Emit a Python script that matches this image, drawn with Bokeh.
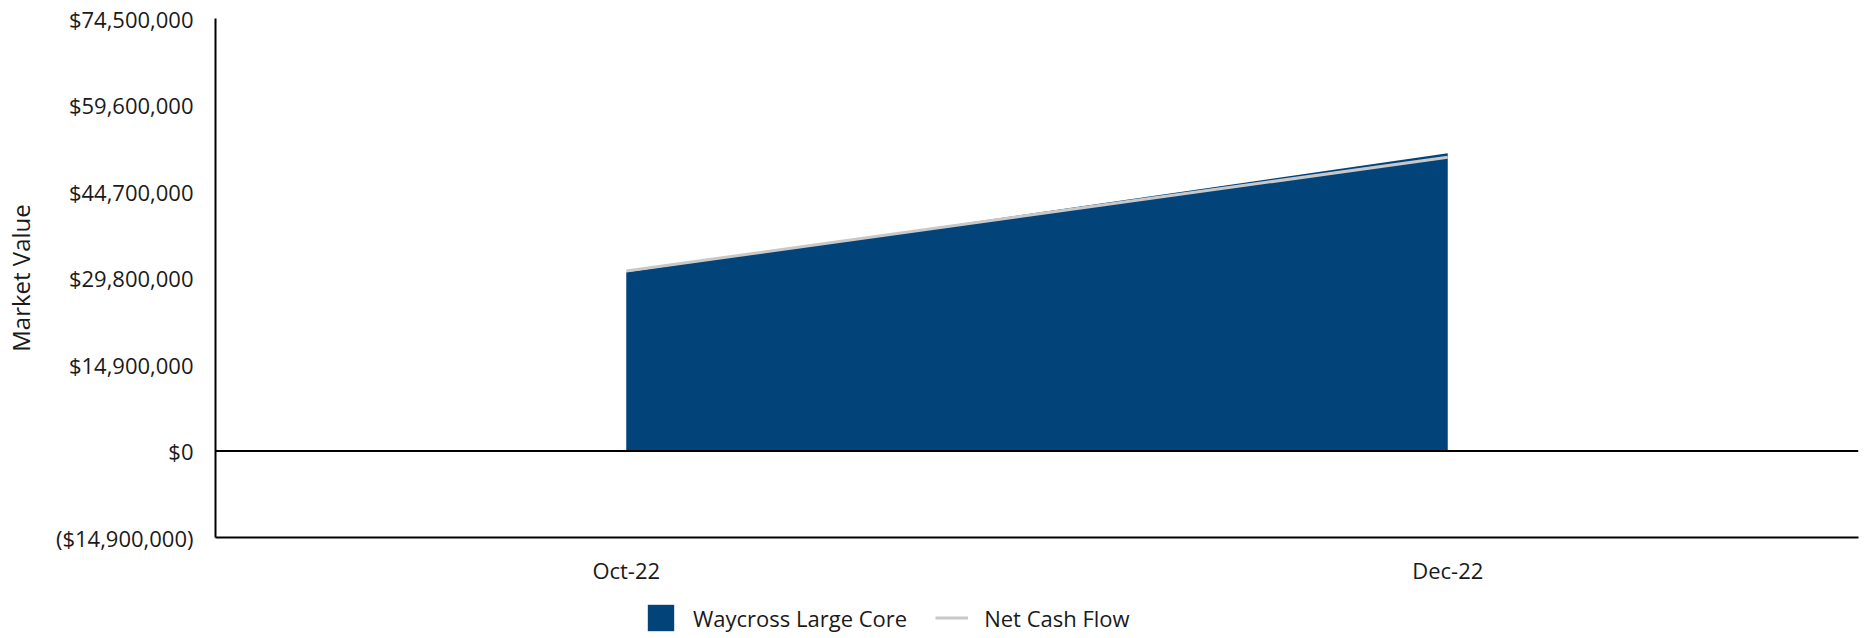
from bokeh.plotting import figure
from bokeh.layouts import column
from bokeh.models import Range1d, FixedTicker, Span, Legend, LegendItem, ColumnDataSource
from bokeh.embed import file_html
from bokeh.resources import INLINE

# ---- data ----
categories = ["Oct-22", "Dec-22"]
market_value = [30_800_000, 51_300_000]
net_cash_flow = [31_000_000, 50_600_000]
y_ticks = [-14_900_000, 0, 14_900_000, 29_800_000, 44_700_000, 59_600_000, 74_500_000]
y_tick_labels = ["($14,900,000)", "$0", "$14,900,000", "$29,800,000",
                 "$44,700,000", "$59,600,000", "$74,500,000"]
series_names = ["Waycross Large Core", "Net Cash Flow"]

FONT = "Open Sans"
BLUE = "#02437A"
GRAY = "#C8C8C8"
TXT = "#1a1a1a"

x = list(range(len(categories)))
src = ColumnDataSource(dict(x=x, mv=market_value, ncf=net_cash_flow, zero=[0] * len(x)))

p = figure(frame_width=1643, frame_height=519, output_backend="svg", toolbar_location=None,
           x_range=Range1d(-0.5, len(categories) - 0.5),
           y_range=Range1d(y_ticks[0], y_ticks[-1]),
           min_border_left=214, min_border_top=18, min_border_right=1, min_border_bottom=0)

p.outline_line_color = None
p.grid.visible = False
p.background_fill_color = "white"
p.border_fill_color = "white"

area = p.varea(x="x", y1="zero", y2="mv", source=src, fill_color=BLUE)
line = p.line(x="x", y="ncf", source=src, line_color=GRAY, line_width=3)

p.add_layout(Span(location=0, dimension="width", line_color="black", line_width=2))

# axes
p.yaxis.ticker = FixedTicker(ticks=y_ticks)
p.yaxis.major_label_overrides = {t: l for t, l in zip(y_ticks, y_tick_labels)}
p.xaxis.ticker = FixedTicker(ticks=x)
p.xaxis.major_label_overrides = {i: c for i, c in zip(x, categories)}
for ax in (p.xaxis, p.yaxis):
    ax.axis_line_color = "black"
    ax.axis_line_width = 2
    ax.major_tick_line_color = None
    ax.minor_tick_line_color = None
    ax.major_label_text_font = FONT
    ax.major_label_text_font_size = "22px"
    ax.major_label_text_color = TXT
p.yaxis.major_label_standoff = 16
p.xaxis.major_label_standoff = 11
p.yaxis.axis_label = "Market Value"
p.yaxis.axis_label_text_font = FONT
p.yaxis.axis_label_text_font_size = "24px"
p.yaxis.axis_label_text_font_style = "normal"
p.yaxis.axis_label_text_color = TXT
p.yaxis.axis_label_standoff = 16

# ---- legend strip (separate figure below the chart) ----
LEG_H = 58
q = figure(width=1858, height=LEG_H, output_backend="svg", toolbar_location=None,
           x_range=Range1d(0, 1), y_range=Range1d(0, 1),
           min_border=0)
q.outline_line_color = None
q.axis.visible = False
q.grid.visible = False
q.background_fill_color = "white"
q.border_fill_color = "white"
# legend-only renderers, placed outside the visible range of the strip
leg_area = q.varea(x=[5, 6], y1=[5, 5], y2=[6, 6], fill_color=BLUE)
leg_line = q.line(x=[5, 6], y=[5, 5], line_color=GRAY, line_width=3)

legend = Legend(items=[LegendItem(label=series_names[0], renderers=[leg_area]),
                       LegendItem(label=series_names[1], renderers=[leg_line])],
                orientation="horizontal", location=(429, 11),
                border_line_color=None, background_fill_alpha=0,
                padding=0, margin=0, spacing=28, label_standoff=16,
                glyph_width=33, glyph_height=33,
                label_text_font=FONT, label_text_font_size="22px",
                label_text_color=TXT)
q.add_layout(legend, "center")

layout = column(p, q, spacing=0)
open("out.html", "w").write(file_html(layout, INLINE))
